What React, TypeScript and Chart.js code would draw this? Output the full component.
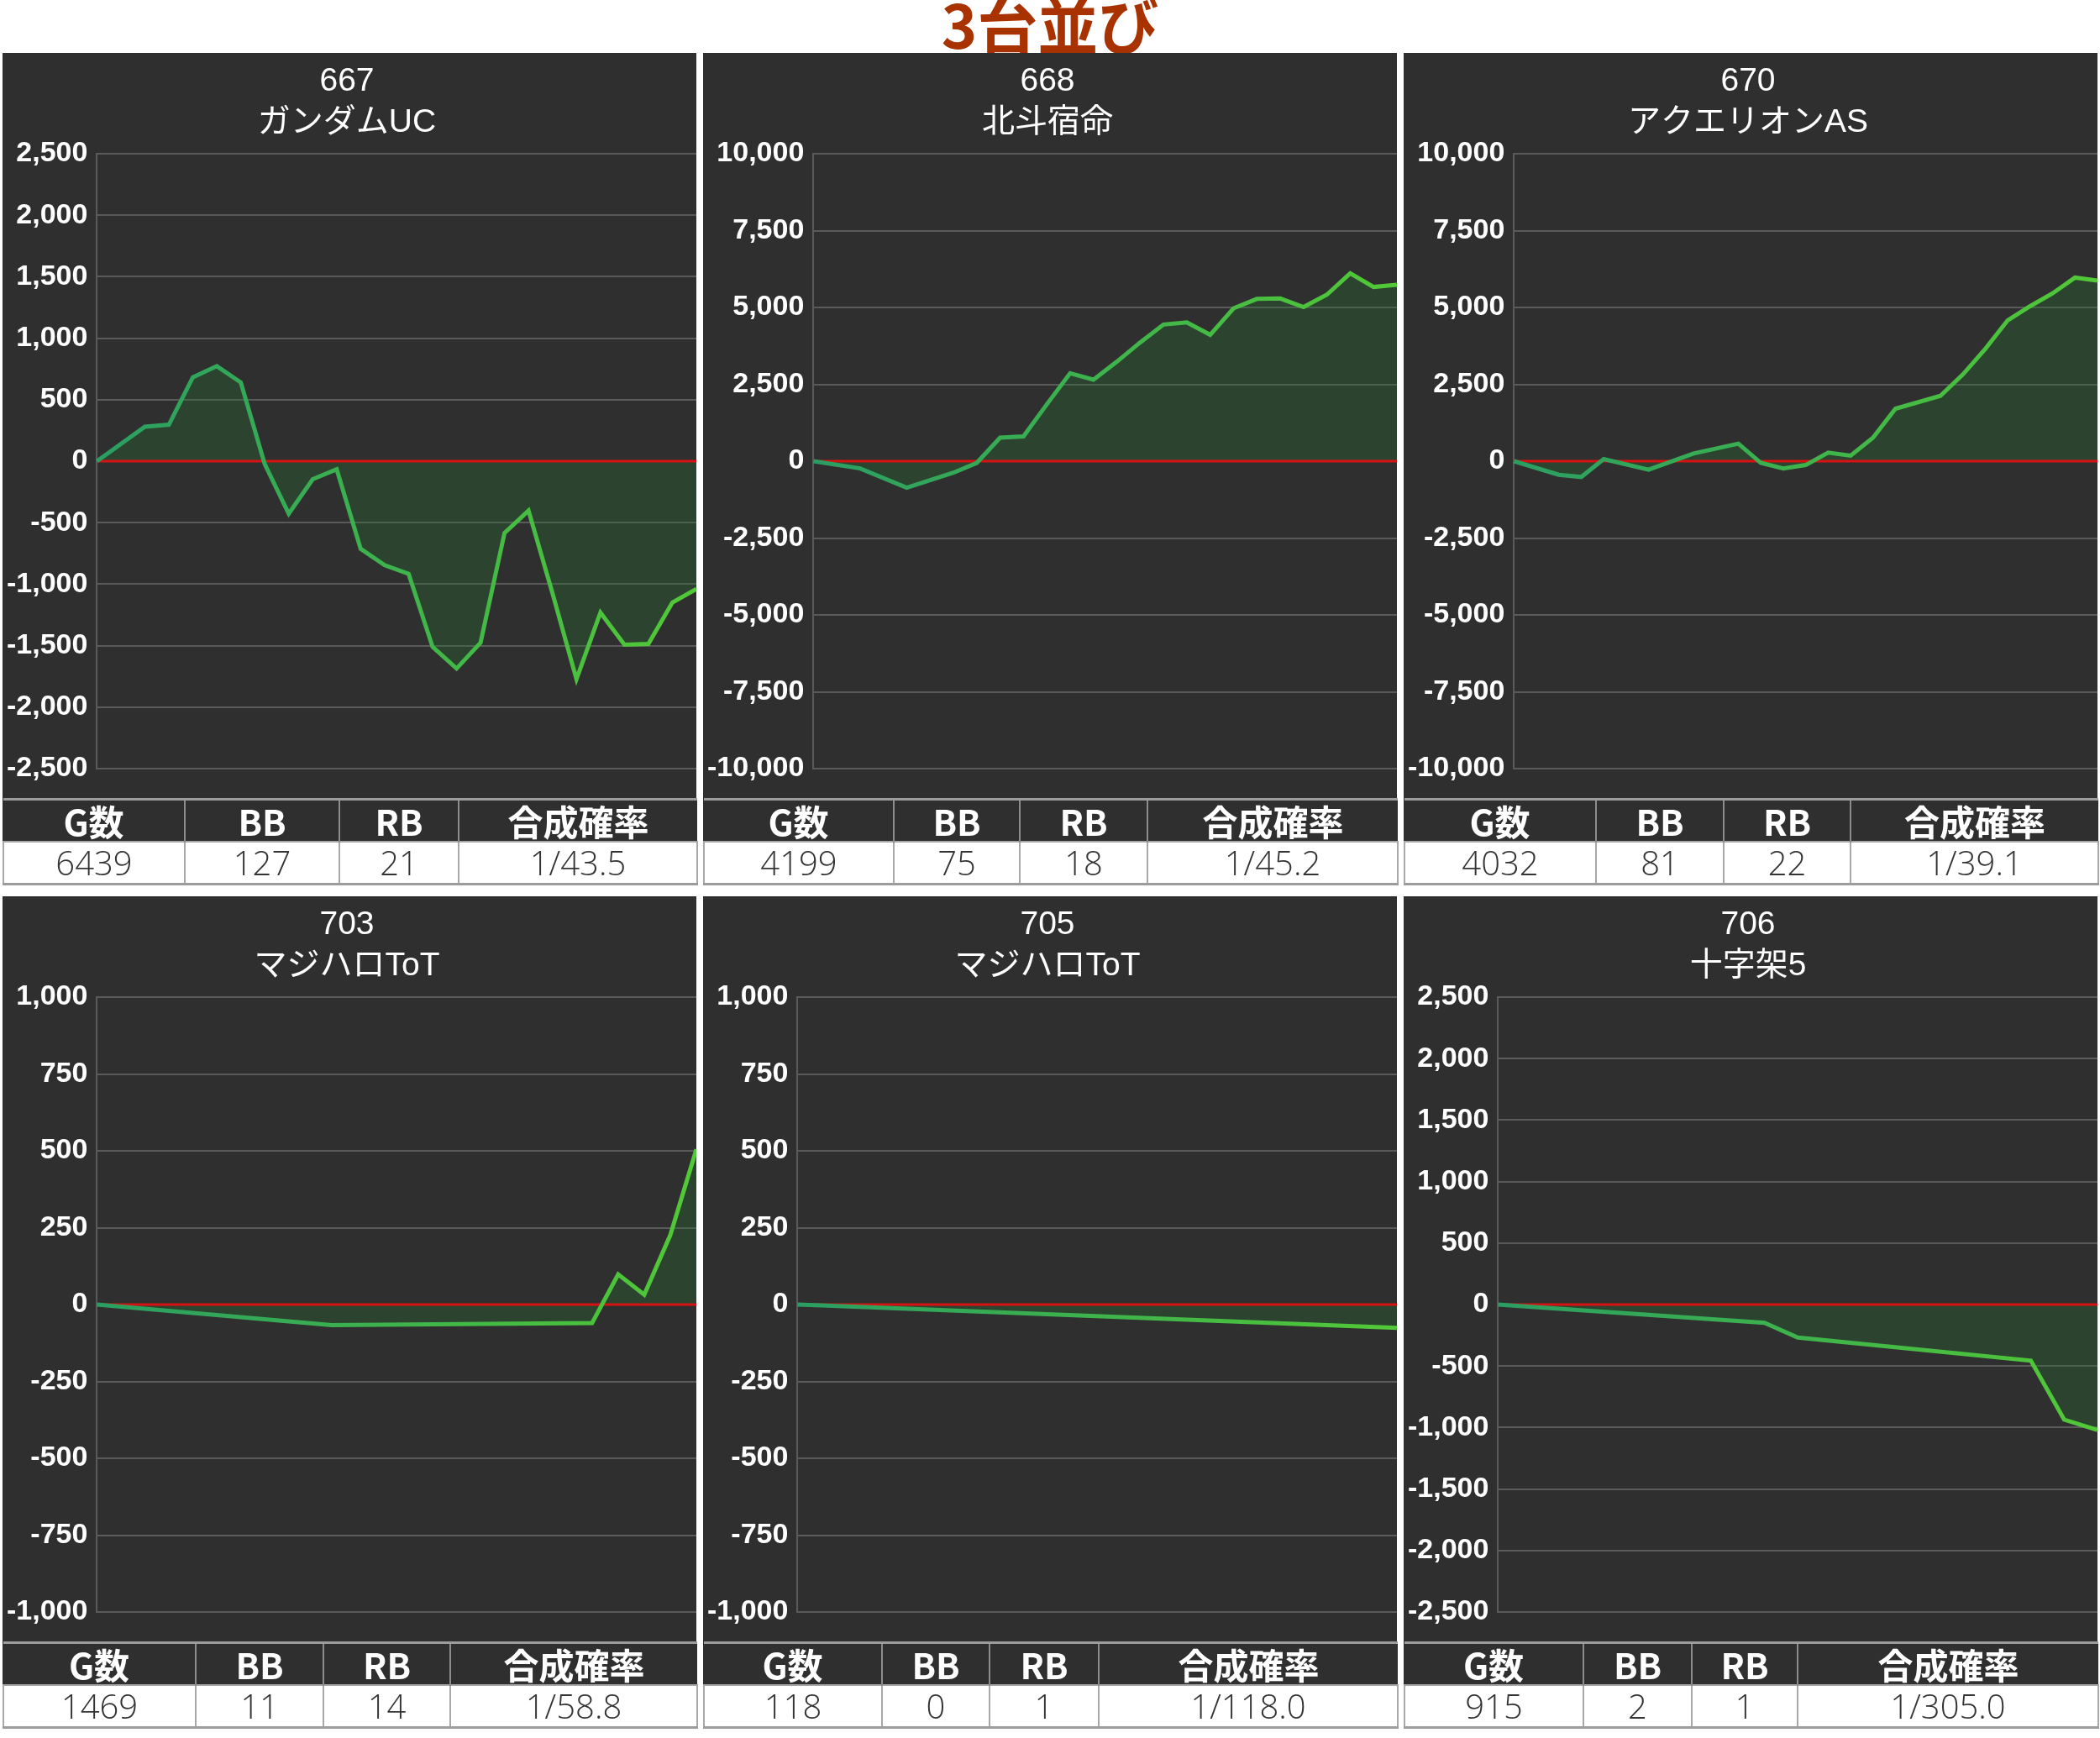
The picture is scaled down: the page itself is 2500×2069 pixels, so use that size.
import React, { useEffect, useRef } from 'react';
import { Chart, registerables } from 'chart.js';

Chart.register(...registerables);

const pageTitle = '3台並び';

const machineNumbers = ['667', '668', '670', '703', '705', '706'];
const machineNames = ['ガンダムUC', '北斗宿命', 'アクエリオンAS', 'マジハロToT', 'マジハロToT', '十字架5'];

// slump data (差枚) — null = no recorded point, line spans across
const slump667 = [0, null, 280, 297, 682, 773, 640, -25, -427, -147, -66, -713, -846, -916, -1511, -1686, -1476, -584, -402, -1074, -1773, -1231, -1493, -1486, -1150, -1039];
const slump668 = [0, null, -236, null, -861, null, -375, -56, 764, 806, 1847, 2861, 2653, 3236, 3861, 4445, 4514, 4111, 4972, 5278, 5292, 5014, 5417, 6112, 5667, 5736];
const slump670 = [0, null, -444, -514, 69, null, -278, null, 250, null, 569, -56, -236, -125, 278, 181, 764, 1708, null, 2125, 2819, 3653, 4583, 5042, 5458, 5972, 5875];
const slump703 = [0, null, null, null, null, null, null, null, null, -67, null, null, null, null, null, null, null, null, null, -60, 98, 32, 226, 505];
const slump705 = [0, -3, null, null, null, null, null, null, null, null, null, null, null, null, null, null, null, null, null, null, null, null, null, null, null, -76];
const slump706 = [0, null, null, null, null, null, null, null, -148, -268, null, null, null, null, null, null, -456, -936, -1020];

const slumps = [slump667, slump668, slump670, slump703, slump705, slump706];

const yMins = [-2500, -10000, -10000, -1000, -1000, -2500];
const yMaxs = [2500, 10000, 10000, 1000, 1000, 2500];
const ySteps = [500, 2500, 2500, 250, 250, 500];

const tableHeaders = ['G数', 'BB', 'RB', '合成確率'];
const gameCounts = ['6439', '4199', '4032', '1469', '118', '915'];
const bbCounts = ['127', '75', '81', '11', '0', '2'];
const rbCounts = ['21', '18', '22', '14', '1', '1'];
const combinedRates = ['1/43.5', '1/45.2', '1/39.1', '1/58.8', '1/118.0', '1/305.0'];

// layout (column widths of each panel's table, px)
const tableColWidths = [
  [216, 184, 142, 284],
  [226, 150, 152, 298],
  [228, 152, 151, 295],
  [229, 152, 151, 294],
  [212, 128, 130, 356],
  [213, 129, 126, 358],
];

const PANEL_W = 826;
const CHART_H = 887;
const PANEL_BG = '#2f2f2f';

const zeroLinePlugin = {
  id: 'zeroLine',
  beforeDatasetsDraw(chart: any) {
    const { ctx, chartArea, scales } = chart;
    const y = scales.y.getPixelForValue(0);
    ctx.save();
    ctx.strokeStyle = '#d81212';
    ctx.lineWidth = 3;
    ctx.beginPath();
    ctx.moveTo(chartArea.left, y);
    ctx.lineTo(chartArea.right, y);
    ctx.stroke();
    ctx.restore();
  },
};

function SlumpChart({ idx }: { idx: number }) {
  const ref = useRef<HTMLCanvasElement>(null);
  useEffect(() => {
    const data = slumps[idx];
    const chart = new Chart(ref.current as HTMLCanvasElement, {
      type: 'line',
      data: {
        labels: data.map((_, i) => String(i)),
        datasets: [
          {
            data,
            spanGaps: true,
            fill: 'origin',
            backgroundColor: 'rgba(40,112,50,0.32)',
            borderColor: (c: any) => {
              const area = c.chart.chartArea;
              if (!area) return '#3bb04a';
              const g = c.chart.ctx.createLinearGradient(area.left, 0, area.right, 0);
              g.addColorStop(0, '#2a9e62');
              g.addColorStop(1, '#52c936');
              return g;
            },
            borderWidth: 5,
            pointRadius: 0,
            tension: 0,
          },
        ],
      },
      options: {
        responsive: false,
        animation: false,
        layout: { padding: { left: -6, right: 0, top: 0, bottom: 35 } },
        plugins: {
          legend: { display: false },
          tooltip: { enabled: false },
          filler: { drawTime: 'beforeDatasetsDraw' },
          title: {
            display: true,
            text: [machineNumbers[idx], machineNames[idx]],
            color: '#ffffff',
            font: { family: '"Liberation Sans", "Noto Sans CJK JP", sans-serif', size: 39, weight: 'normal', lineHeight: 1.25 },
            padding: { top: 10, bottom: 12.5 },
          },
        },
        scales: {
          x: { display: false },
          y: {
            min: yMins[idx],
            max: yMaxs[idx],
            ticks: {
              stepSize: ySteps[idx],
              color: '#ffffff',
              padding: 11,
              font: { family: '"Liberation Sans", Arial, sans-serif', size: 34, weight: 'bold' },
              callback: (v: any) => Number(v).toLocaleString('en-US'),
            },
            grid: {
              color: (c: any) => (c.tick && c.tick.value === 0 ? 'rgba(0,0,0,0)' : '#5a5a5a'),
              lineWidth: 2,
              drawTicks: false,
            },
            border: { display: true, color: '#5a5a5a', width: 2 },
          },
        },
      } as any,
      plugins: [zeroLinePlugin],
    });
    return () => chart.destroy();
  }, [idx]);
  return <canvas ref={ref} width={PANEL_W} height={CHART_H} style={{ display: 'block', width: PANEL_W, height: CHART_H }} />;
}

const thStyle: React.CSSProperties = {
  background: PANEL_BG,
  color: '#ffffff',
  fontFamily: '"Noto Sans CJK JP", sans-serif',
  fontWeight: 700,
  fontSize: 42,
  height: 48,
  padding: 0,
  borderTop: '3px solid #9c9c9c',
  borderLeft: '2px solid #8c8c8c',
  borderRight: '2px solid #8c8c8c',
  lineHeight: '48px',
  textAlign: 'center',
};

const tdStyle: React.CSSProperties = {
  background: '#ffffff',
  color: '#333333',
  fontFamily: '"Open Sans", "Liberation Sans", sans-serif',
  fontWeight: 300,
  fontSize: 40,
  height: 48,
  padding: 0,
  borderLeft: '2px solid #a8a8a8',
  borderRight: '2px solid #a8a8a8',
  borderTop: '2px solid #a8a8a8',
  borderBottom: '3px solid #9c9c9c',
  lineHeight: '48px',
  textAlign: 'center',
};

function Panel({ idx }: { idx: number }) {
  const values = [gameCounts[idx], bbCounts[idx], rbCounts[idx], combinedRates[idx]];
  return (
    <div style={{ width: PANEL_W, background: PANEL_BG }}>
      <SlumpChart idx={idx} />
      <table style={{ width: '100%', borderCollapse: 'collapse', tableLayout: 'fixed' }}>
        <colgroup>
          {tableColWidths[idx].map((w, i) => (
            <col key={i} style={{ width: w }} />
          ))}
        </colgroup>
        <tbody>
          <tr>
            {tableHeaders.map((h, i) => (
              <th key={i} style={{ ...thStyle, borderLeft: i === 0 ? 'none' : thStyle.borderLeft, borderRight: i === 3 ? 'none' : thStyle.borderRight }}>{h}</th>
            ))}
          </tr>
          <tr>
            {values.map((v, i) => (
              <td key={i} style={tdStyle}>{v}</td>
            ))}
          </tr>
        </tbody>
      </table>
    </div>
  );
}

export default function App() {
  return (
    <div style={{ position: 'absolute', left: 0, top: 0, width: 2500, height: 2069, background: '#ffffff', overflow: 'hidden' }}>
      <div
        style={{
          height: 63,
          lineHeight: '53px',
          textAlign: 'center',
          fontFamily: '"Noto Sans CJK JP", sans-serif',
          fontWeight: 700,
          fontSize: 72,
          color: '#a83200',
          whiteSpace: 'nowrap',
        }}
      >
        {pageTitle}
      </div>
      <div
        style={{
          display: 'grid',
          gridTemplateColumns: `repeat(3, ${PANEL_W}px)`,
          columnGap: 8,
          rowGap: 13,
          marginLeft: 3,
        }}
      >
        {slumps.map((_, i) => (
          <Panel key={i} idx={i} />
        ))}
      </div>
    </div>
  );
}
